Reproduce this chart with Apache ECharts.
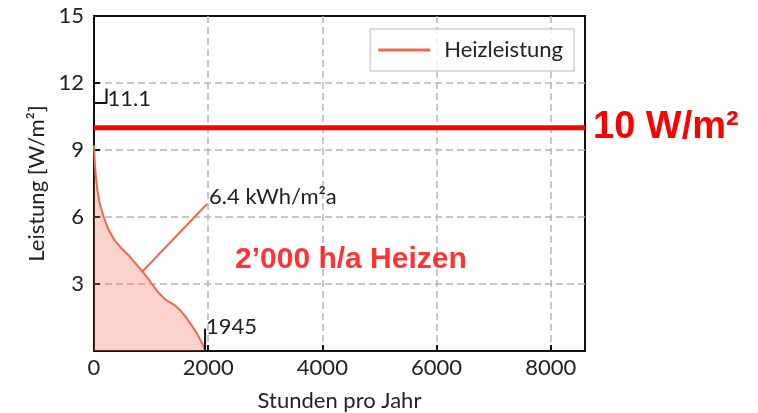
<!DOCTYPE html>
<html>
<head>
<meta charset="utf-8">
<script src="https://cdn.jsdelivr.net/npm/echarts@6/dist/echarts.min.js"></script>
<style>
  html, body { margin: 0; padding: 0; background: #fff; }
  #chart { width: 758px; height: 413px; }
</style>
</head>
<body>
<div id="chart"></div>
<script>
// Heating load duration curve: hours per year vs. heating power
const hours = [0, 15, 30, 60, 100, 170, 250, 350, 480, 600, 700, 820, 960, 1100, 1250, 1400, 1500, 1600, 1700, 1800, 1900, 1945];
const power = [9.2, 8.4, 7.9, 7.2, 6.6, 6.0, 5.45, 5.0, 4.6, 4.3, 4.0, 3.65, 3.2, 2.7, 2.3, 2.08, 1.85, 1.55, 1.18, 0.8, 0.32, 0];

// Design load limit
const limitValue = 10;
const limitLabel = '10 W/m²';

// Peak load marker
const peakValue = 11.1;
const peakLabel = '11.1';

// Heating hours marker
const heatingHours = 1945;
const heatingLabel = '1945';

// Annual energy annotation (leader line from curve area to label)
const energyLeader = [[843, 3.55], [1980, 6.58]];
const energyLabel = '6.4 kWh/m²a';

// Free text annotation
const noteText = '2’000 h/a Heizen';
const notePos = [4500, 4.1];

// Axis settings
const xMax = 8600, xStep = 2000;
const yMax = 15, yStep = 3;

const font = 'Lato';
const fs = 22;
const curveColor = '#ea6a4f';

const chart = echarts.init(document.getElementById('chart'));

const gridLine = { show: true, showMinLine: false, showMaxLine: false,
  lineStyle: { color: '#b5b5b5', width: 1.5, type: [7, 4] } };

chart.setOption({
  animation: false,
  textStyle: { fontFamily: font },
  grid: {
    left: 94, right: 173, top: 16, bottom: 62,
    outerBoundsMode: 'none',
    show: true, borderColor: '#111', borderWidth: 2, containLabel: false
  },
  legend: {
    data: ['Heizleistung'],
    right: 184, top: 29,
    icon: 'rect', itemWidth: 52, itemHeight: 3,
    padding: [10, 11, 10, 8],
    backgroundColor: 'rgba(255,255,255,0.8)',
    borderColor: '#d2d2d2', borderWidth: 1.5, borderRadius: 0,
    textStyle: { fontFamily: font, fontSize: fs, color: '#222', padding: [0, 0, 0, 9] }
  },
  xAxis: {
    type: 'value', min: 0, max: xMax, interval: xStep,
    name: 'Stunden pro Jahr', nameLocation: 'middle', nameGap: 39,
    nameTextStyle: { fontFamily: font, fontSize: fs, color: '#222' },
    axisLine: { show: true, lineStyle: { color: '#111', width: 2 } },
    axisTick: { show: true, inside: true, length: 6, lineStyle: { color: '#111', width: 2 } },
    axisLabel: {
      fontFamily: font, fontSize: fs, color: '#222', margin: 6,
      formatter: v => (v % xStep === 0 ? String(v) : '')
    },
    splitLine: gridLine
  },
  yAxis: {
    type: 'value', min: 0, max: yMax, interval: yStep,
    name: 'Leistung [W/m²]', nameLocation: 'middle', nameGap: 46,
    nameTextStyle: { fontFamily: font, fontSize: fs, color: '#222' },
    axisLine: { show: true, lineStyle: { color: '#111', width: 2 } },
    axisTick: { show: true, inside: true, length: 6, lineStyle: { color: '#111', width: 2 } },
    axisLabel: {
      fontFamily: font, fontSize: fs, color: '#222', margin: 10,
      formatter: v => (v === 0 ? '' : String(v))
    },
    splitLine: gridLine
  },
  series: [
    {
      name: 'Heizleistung',
      type: 'line',
      data: hours.map((h, i) => [h, power[i]]),
      showSymbol: false,
      lineStyle: { color: curveColor, width: 2 },
      itemStyle: { color: curveColor },
      areaStyle: { color: 'rgba(240,105,80,0.42)' },
      z: 3
    },
    {
      name: 'energy',
      type: 'line',
      data: energyLeader,
      showSymbol: false,
      lineStyle: { color: curveColor, width: 2 },
      endLabel: {
        show: true, formatter: energyLabel, distance: 2, offset: [0, -7],
        fontFamily: font, fontSize: fs, color: '#222'
      },
      silent: true, z: 3
    },
    {
      name: 'peak',
      type: 'line',
      data: [[0, peakValue], [220, peakValue], [220, peakValue + 0.65]],
      showSymbol: false,
      lineStyle: { color: '#111', width: 2 },
      endLabel: {
        show: true, formatter: peakLabel, distance: 1, offset: [0, 10],
        fontFamily: font, fontSize: fs, color: '#222'
      },
      silent: true, z: 4
    },
    {
      name: 'hours',
      type: 'line',
      data: [[heatingHours, 0], [heatingHours, 1.0]],
      showSymbol: false,
      lineStyle: { color: '#111', width: 2 },
      endLabel: {
        show: true, formatter: heatingLabel, distance: 1, offset: [0, -2],
        fontFamily: font, fontSize: fs, color: '#222'
      },
      silent: true, z: 4
    },
    {
      name: 'limit',
      type: 'line',
      data: [[0, limitValue], [xMax, limitValue]],
      showSymbol: false,
      lineStyle: { color: '#ff0000', width: 5 },
      endLabel: {
        show: true, formatter: limitLabel, distance: 8,
        fontFamily: 'Liberation Sans', fontWeight: 'bold', fontSize: 38, color: '#ff0000'
      },
      silent: true, z: 5
    },
    {
      name: 'note',
      type: 'scatter',
      data: [notePos],
      symbolSize: 0,
      label: {
        show: true, position: 'inside', formatter: noteText,
        fontFamily: 'Liberation Sans', fontWeight: 'bold', fontSize: 30, color: '#ff0000'
      },
      silent: true, z: 5
    }
  ]
});
</script>
</body>
</html>
